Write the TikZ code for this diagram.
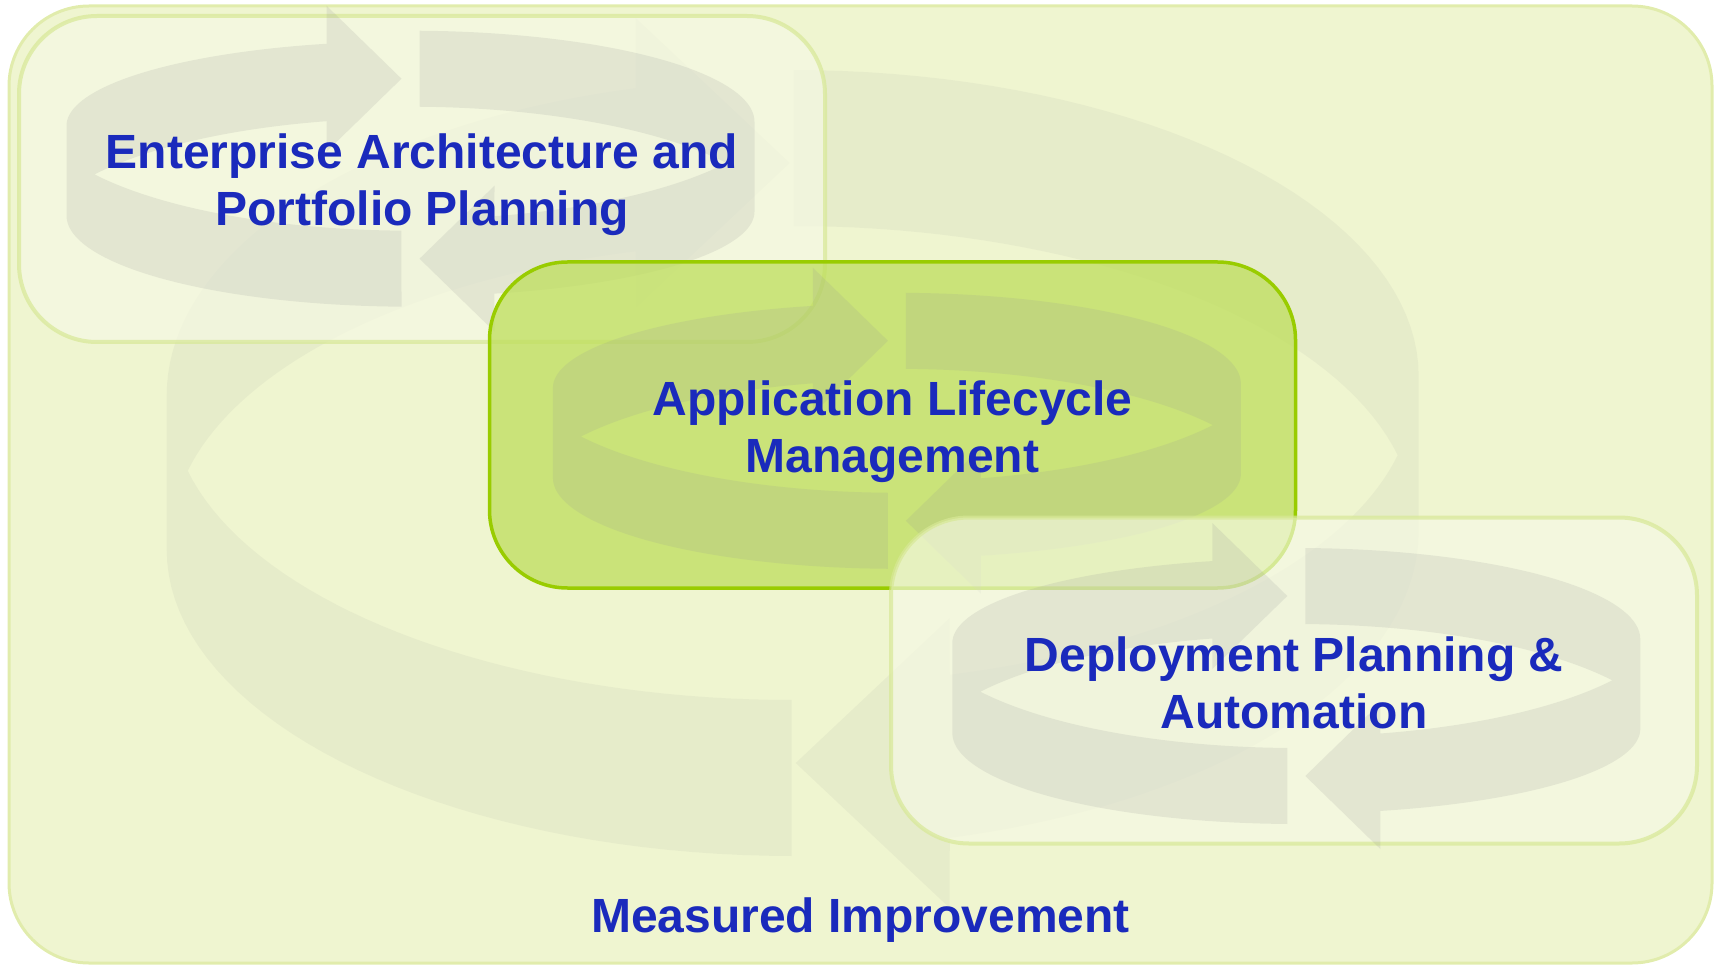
\documentclass[tikz,border=0pt]{standalone}
\usepackage{fontspec}
\setmainfont{Liberation Sans}
\usepackage{xcolor}
\usepackage{tikz}
\usetikzlibrary{positioning}

\definecolor{framefill}{RGB}{239,245,208}
\definecolor{frameline}{RGB}{225,236,172}
\definecolor{panelfill}{RGB}{246,249,230}
\definecolor{panelline}{RGB}{215,232,150}
\definecolor{almfill}{RGB}{190,222,92}
\definecolor{almline}{RGB}{153,204,0}
\definecolor{cyclegray}{RGB}{150,150,150}
\definecolor{capblue}{RGB}{26,42,188}

% two curved arrows round a centre (small size)
\newcommand\smallcycle[2]{%
  \begin{scope}[shift={(#1,#2)}]
    \foreach \turn in {0,180}
      \fill[turnarrow, rotate=\turn] (-9,138)
        -- plot[domain=91.5:180] ({344*cos(\x)}, {47+91*sin(\x)})
        -- plot[domain=180:255.87] ({344*cos(\x)}, {-43+84.5*sin(\x)})
        -- (-84,-163) -- (-9,-90) -- (-84,-17)
        -- plot[domain=257.06:212.57] ({375*cos(\x)}, {71.4+122*sin(\x)})
        -- plot[domain=147.43:91.38] ({375*cos(\x)}, {-60+122*sin(\x)})
        -- cycle;
  \end{scope}}

\begin{document}
\begin{tikzpicture}[
  x=1pt, y=-1pt,
  frame/.style={
    draw=frameline,
    line width=3pt,
    fill=framefill,
    rounded corners=80pt,
    inner sep=0pt
  },
  panel/.style={
    draw=panelline, draw opacity=.7,
    line width=4pt,
    fill=panelfill, fill opacity=.65,
    rounded corners=78pt,
    minimum width=806pt,
    minimum height=326pt,
    inner sep=0pt
  },
  core/.style={panel, draw=almline, draw opacity=1, line width=3.5pt,
    fill=almfill, fill opacity=.75},
  caption/.style={text=capblue, font=\bfseries\fontsize{48}{57}\selectfont,
    align=center, inner sep=0pt},
  turnarrow/.style={fill=cyclegray, fill opacity=.17, samples=40},
  bigarrow/.style={turnarrow, fill opacity=.09}
]
\useasboundingbox (0,0) rectangle (1715,965);

% ================= background =================
\node[frame, minimum width=1703pt, minimum height=957pt] (frame) at (860.5,484.5) {};

% big cycle behind the panels
\begin{scope}[shift={(792.7,463)}]
  \foreach \turn in {0,180}
    \fill[bigarrow, rotate=\turn] (-1,393)
      -- plot[domain=90.09:180] ({626*cos(\x)}, {87+306*sin(\x)})
      -- plot[domain=180:255.47] ({626*cos(\x)}, {-68+317*sin(\x)})
      -- (-157,-445) -- (-3,-300) -- (-157,-155)
      -- plot[domain=255.36:193.2] ({621.4*cos(\x)}, {75.6+297*sin(\x)})
      -- plot[domain=166.8:90.09] ({621.4*cos(\x)}, {-60+297*sin(\x)})
      -- cycle;
\end{scope}

% ================= panels =================
\node[panel] (ea) at (422,179) {};
\smallcycle{410.5}{168.7}

\node[core] (alm) at (892.5,425) {};
\smallcycle{896.9}{430.8}

\node[panel] (deploy) at (1294,680.5) {};
\smallcycle{1296.3}{686}

% ================= texts =================
\node[caption] (ea-text) at ([yshift=-7pt]ea.center)
  {\strut Enterprise Architecture and\\\strut Portfolio Planning};
\node[caption] (alm-text) at ([yshift=-8pt]alm.center)
  {\strut Application Lifecycle\\\strut Management};
\node[caption] (deploy-text) at ([yshift=-8.5pt]deploy.center)
  {\strut Deployment Planning \&\\\strut Automation};
\node[caption, anchor=base] (measured) at (860.5,932) {Measured Improvement};

\end{tikzpicture}
\end{document}
